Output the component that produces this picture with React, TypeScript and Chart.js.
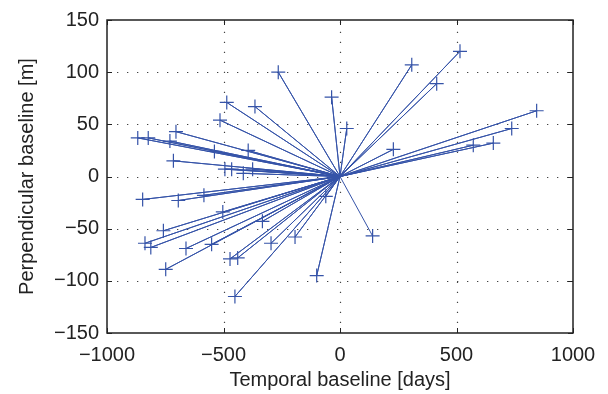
import React, { useEffect, useRef } from "react";
import { Chart, registerables } from "chart.js";

Chart.register(...registerables);

// Temporal baseline [days] of each interferometric pair (relative to master)
const temporalBaselines = [
  515, 308, 415, 844, 737, 572, 658, 229, 29, -36,
  -265, -486, -365, -515, -704, -868, -823, -730, -539, -394,
  -715, -494, -465, -415, -375, -847, -694, -584, -503, -758,
  -333, -837, -812, -661, -551, -296, -193, -472, -439, -748,
  -451, -100, -61, 140,
];
// Perpendicular baseline [m]
const perpBaselines = [
  120, 107, 89, 63, 46, 30, 32, 26, 46, 76,
  100, 71, 67, 54, 43, 37, 37, 34, 24, 25,
  15, 7, 7, 3, 7, -22, -23, -18, -34, -52,
  -43, -64, -68, -69, -65, -64, -58, -79, -78, -89,
  -115, -95, -19, -57,
];

const xTicks = [-1000, -500, 0, 500, 1000];
const yTicks = [-150, -100, -50, 0, 50, 100, 150];

const FONT = "'Liberation Sans', Arial, Helvetica, sans-serif";
const FONT_SIZE = 20;
const LINE_COLOR = "#3553a8";
const TEXT_COLOR = "#222";

const fmt = (v: number) => String(v).replace("-", "\u2212");

export default function App() {
  const ref = useRef<HTMLCanvasElement | null>(null);

  useEffect(() => {
    document.body.style.margin = "0";
    const canvas = ref.current;
    if (!canvas) return;

    const seq: { x: number; y: number; o: boolean }[] = [];
    temporalBaselines.forEach((t, i) => {
      seq.push({ x: 0, y: 0, o: true });
      seq.push({ x: t, y: perpBaselines[i], o: false });
    });

    const framePlugin = {
      id: "frame",
      beforeDatasetsDraw(chart: any) {
        const { ctx, chartArea: a, scales } = chart;
        ctx.save();
        ctx.strokeStyle = "#444";
        ctx.lineWidth = 1.2;
        ctx.setLineDash([1.3, 8.7]);
        xTicks.forEach((v) => {
          const px = Math.round(scales.x.getPixelForValue(v)) + 0.5;
          if (px <= a.left + 1 || px >= a.right - 1) return;
          ctx.beginPath();
          ctx.moveTo(px, a.bottom);
          ctx.lineTo(px, a.top);
          ctx.stroke();
        });
        yTicks.forEach((v) => {
          const py = Math.round(scales.y.getPixelForValue(v)) + 0.5;
          if (py <= a.top + 1 || py >= a.bottom - 1) return;
          ctx.beginPath();
          ctx.moveTo(a.left, py);
          ctx.lineTo(a.right, py);
          ctx.stroke();
        });
        ctx.restore();
      },
      afterDatasetsDraw(chart: any) {
        const { ctx, chartArea: a, scales } = chart;
        ctx.save();
        ctx.strokeStyle = "#222";
        ctx.lineWidth = 1.5;
        ctx.setLineDash([]);
        ctx.strokeRect(a.left, a.top, a.right - a.left, a.bottom - a.top);
        ctx.lineWidth = 1;
        const tl = 5;
        xTicks.forEach((v) => {
          const px = Math.round(scales.x.getPixelForValue(v)) + 0.5;
          ctx.beginPath();
          ctx.moveTo(px, a.bottom);
          ctx.lineTo(px, a.bottom - tl);
          ctx.moveTo(px, a.top);
          ctx.lineTo(px, a.top + tl);
          ctx.stroke();
        });
        yTicks.forEach((v) => {
          const py = Math.round(scales.y.getPixelForValue(v)) + 0.5;
          ctx.beginPath();
          ctx.moveTo(a.left, py);
          ctx.lineTo(a.left + tl, py);
          ctx.moveTo(a.right, py);
          ctx.lineTo(a.right - tl, py);
          ctx.stroke();
        });
        ctx.restore();
      },
    };

    const chart = new Chart(canvas, {
      type: "scatter",
      data: {
        datasets: [
          {
            data: seq as any,
            showLine: true,
            borderColor: LINE_COLOR,
            borderWidth: 1,
            pointStyle: "cross",
            pointRadius: (c: any) => (c.raw && c.raw.o ? 0 : 7),
            pointBorderColor: LINE_COLOR,
            pointBorderWidth: 1.2,
            pointHoverRadius: 0,
            tension: 0,
          } as any,
        ],
      },
      options: {
        responsive: false,
        animation: false,
        events: [],
        layout: { padding: { top: 20, right: 35, left: 0, bottom: 0 } },
        plugins: {
          legend: { display: false },
          tooltip: { enabled: false },
        },
        scales: {
          x: {
            type: "linear",
            min: -1000,
            max: 1000,
            afterFit: (s: any) => {
              s.height = 61;
            },
            afterBuildTicks: (s: any) => {
              s.ticks = xTicks.map((v) => ({ value: v }));
            },
            grid: { display: false, drawTicks: false },
            border: { display: false },
            ticks: {
              padding: 10,
              color: TEXT_COLOR,
              font: { family: FONT, size: FONT_SIZE },
              maxRotation: 0,
              autoSkip: false,
              callback: (v: any) => fmt(v),
            },
            title: {
              display: true,
              text: "Temporal baseline [days]",
              color: TEXT_COLOR,
              font: { family: FONT, size: FONT_SIZE },
              padding: { top: 0, bottom: 2 },
            },
          },
          y: {
            type: "linear",
            min: -150,
            max: 150,
            afterFit: (s: any) => {
              s.width = 107;
            },
            afterBuildTicks: (s: any) => {
              s.ticks = yTicks.map((v) => ({ value: v }));
            },
            grid: { display: false, drawTicks: false },
            border: { display: false },
            ticks: {
              padding: 8,
              color: TEXT_COLOR,
              font: { family: FONT, size: FONT_SIZE },
              autoSkip: false,
              callback: (v: any) => fmt(v),
            },
            title: {
              display: true,
              text: "Perpendicular baseline [m]",
              color: TEXT_COLOR,
              font: { family: FONT, size: FONT_SIZE },
              padding: { top: 15, bottom: 0 },
            },
          },
        },
      },
      plugins: [framePlugin],
    });

    return () => chart.destroy();
  }, []);

  return (
    <div style={{ width: 608, height: 394, background: "#fff" }}>
      <canvas ref={ref} width={608} height={394} style={{ display: "block", width: 608, height: 394 }} />
    </div>
  );
}
